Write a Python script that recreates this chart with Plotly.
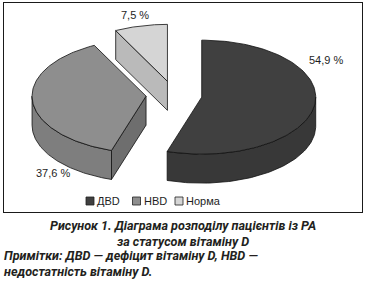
import numpy as np
import plotly.graph_objects as go

# ---- data ----
categories = ["ДВD", "НВD", "Норма"]
values = [54.9, 37.6, 7.5]
top_colors = ["#404040", "#8e8e8e", "#d5d5d5"]
side_colors = ["#383838", "#7e7e7e", "#c4c4c4"]
cut_colors = ["#303030", "#6e6e6e", "#bababa"]

# ---- geometry (pixel space) ----
W, H = 365, 289
FX0, FX1, FY0, FY1 = 4, 362, 3, 212   # chart frame (pixels)
CX, CY = 174.0, 95.0
RX, RY = 114.0, 57.0
EXPLODE = 0.246
DEPTH = 29.0
EDGE = dict(color="#111111", width=0.8)

def rim(cx, cy, th, dy=0.0):
    t = np.radians(th)
    return cx + RX * np.sin(t), cy - RY * np.cos(t) + dy

fig = go.Figure()

total = sum(values)
starts = np.cumsum([0] + values[:-1]) / total * 360
ends = np.cumsum(values) / total * 360

def add_poly(xs, ys, fill):
    fig.add_trace(go.Scatter(x=list(xs), y=list(ys), mode="lines", fill="toself",
                             fillcolor=fill, line=EDGE, hoverinfo="skip",
                             showlegend=False))

# draw back (Норма) first, then НВD, then ДВD
for i in [2, 1, 0]:
    a0, a1 = starts[i], ends[i]
    mid = (a0 + a1) / 2
    sx = CX + EXPLODE * RX * np.sin(np.radians(mid))
    sy = CY - EXPLODE * RY * np.cos(np.radians(mid))
    if np.sin(np.radians(a0)) < -1e-6:
        px, py = rim(sx, sy, a0)
        add_poly([sx, px, px, sx, sx], [sy, py, py + DEPTH, sy + DEPTH, sy], cut_colors[i])
    if np.sin(np.radians(a1)) > 1e-6:
        px, py = rim(sx, sy, a1)
        add_poly([sx, px, px, sx, sx], [sy, py, py + DEPTH, sy + DEPTH, sy], cut_colors[i])
    lo, hi = max(a0, 90.0), min(a1, 270.0)
    if hi > lo:
        th = np.linspace(lo, hi, 80)
        tx, ty = rim(sx, sy, th)
        bx, by = rim(sx, sy, th[::-1], DEPTH)
        add_poly(np.concatenate([tx, bx, tx[:1]]), np.concatenate([ty, by, ty[:1]]), side_colors[i])
    th = np.linspace(a0, a1, 120)
    tx, ty = rim(sx, sy, th)
    add_poly(np.concatenate([[sx], tx, [sx]]), np.concatenate([[sy], ty, [sy]]), top_colors[i])

# data labels
label_pos = [(326, 60), (53, 173), (135, 15)]
for v, (lx, ly) in zip(values, label_pos):
    fig.add_annotation(x=lx, y=ly, text=f"{v:.1f} %".replace(".", ","), showarrow=False,
                       font=dict(family="Liberation Sans, Arial", size=11, color="#1e1e1e"),
                       xanchor="center", yanchor="middle", borderpad=0)

# legend (swatches + text)
leg_x = [86, 132.5, 175]
for i, (name, lx) in enumerate(zip(categories, leg_x)):
    fig.add_shape(type="rect", x0=lx, y0=197, x1=lx + 8, y1=205,
                  line=dict(color="#222222", width=0.8), fillcolor=top_colors[i], layer="above")
    fig.add_annotation(x=lx + 10, y=201, text=name, showarrow=False, xanchor="left", yanchor="middle",
                       font=dict(family="Liberation Sans, Arial", size=11, color="#1e1e1e"), borderpad=0)

# caption (paper coordinates, below the frame)
cap_font = dict(family="Roboto, Open Sans", size=12.6, color="#231f20")
fig.add_annotation(xref="paper", yref="paper", x=182.5 / W, y=1 - 233.7 / H,
                   text="<b><i>Рисунок 1. Діаграма розподілу пацієнтів із РА<br>за статусом вітаміну D</i></b>",
                   showarrow=False, xanchor="center", yanchor="middle", align="center",
                   font=cap_font, borderpad=0)
fig.add_annotation(xref="paper", yref="paper", x=3 / W, y=1 - 263.7 / H,
                   text="<b><i>Примітки: ДВD — дефіцит вітаміну D, НВD —<br>недостатність вітаміну D.</i></b>",
                   showarrow=False, xanchor="left", yanchor="middle", align="left",
                   font=cap_font, borderpad=0)

axis_common = dict(visible=True, showticklabels=False, ticks="", showgrid=False, zeroline=False,
                   showline=True, mirror=True, linecolor="#1a1a1a", linewidth=1.3, fixedrange=True)
fig.update_layout(width=W, height=H, margin=dict(l=0, r=0, t=0, b=0),
                  paper_bgcolor="white", plot_bgcolor="white", showlegend=False)
fig.update_xaxes(range=[FX0, FX1], domain=[FX0 / W, FX1 / W], **axis_common)
fig.update_yaxes(range=[FY1, FY0], domain=[1 - FY1 / H, 1 - FY0 / H], **axis_common)

fig.write_html("out.html")
